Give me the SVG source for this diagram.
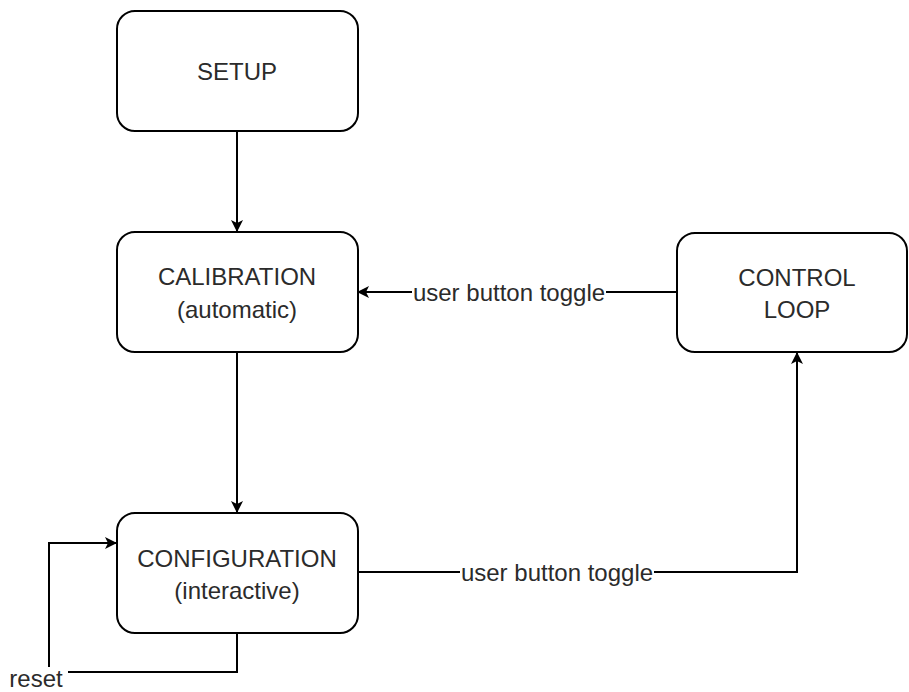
<svg xmlns="http://www.w3.org/2000/svg" width="909" height="692" viewBox="0 0 909 692">
<style>
.box{fill:#fff;stroke:#000;stroke-width:2}
.t{font-family:"Liberation Sans",Arial,sans-serif;font-size:24px;fill:#2b2b2b;text-anchor:middle;dominant-baseline:central}
.e{fill:none;stroke:#000;stroke-width:2}
.lbl{fill:#fff}
</style>
<defs>
<marker id="ah" viewBox="0 0 12 12" refX="11" refY="6" markerWidth="12" markerHeight="12" markerUnits="userSpaceOnUse" orient="auto">
<path d="M0,0 L12,6 L0,12 L3,6 Z" fill="#000"/>
</marker>
</defs>
<rect width="909" height="692" fill="#fff"/>
<g id="edges">
<line class="e" x1="237" y1="132" x2="237" y2="231" marker-end="url(#ah)"/>
<line class="e" x1="237" y1="353" x2="237" y2="512" marker-end="url(#ah)"/>
<line class="e" x1="677" y1="292" x2="358" y2="292" marker-end="url(#ah)"/>
<rect class="lbl" x="412" y="279" width="194" height="26"/>
<text class="t" x="509" y="292">user button toggle</text>
<polyline class="e" points="358,572 797,572 797,353" marker-end="url(#ah)"/>
<rect class="lbl" x="460" y="559" width="194" height="26"/>
<text class="t" x="557" y="572">user button toggle</text>
<polyline class="e" points="237,633 237,672 49,672 49,543 116,543" marker-end="url(#ah)"/>
<rect class="lbl" x="5" y="667" width="63" height="25"/>
<text class="t" x="36" y="678">reset</text>
</g>
<g id="setup">
<rect class="box" x="117" y="11" width="241" height="120" rx="18"/>
<text class="t" x="237" y="71">SETUP</text>
</g>
<g id="calibration">
<rect class="box" x="117" y="232" width="241" height="120" rx="18"/>
<text class="t" x="237" y="276">CALIBRATION</text>
<text class="t" x="237" y="309">(automatic)</text>
</g>
<g id="control">
<rect class="box" x="677" y="233" width="230" height="119" rx="18"/>
<text class="t" x="797" y="277">CONTROL</text>
<text class="t" x="797" y="309">LOOP</text>
</g>
<g id="configuration">
<rect class="box" x="117" y="513" width="241" height="120" rx="18"/>
<text class="t" x="237" y="558">CONFIGURATION</text>
<text class="t" x="237" y="590">(interactive)</text>
</g>
</svg>
